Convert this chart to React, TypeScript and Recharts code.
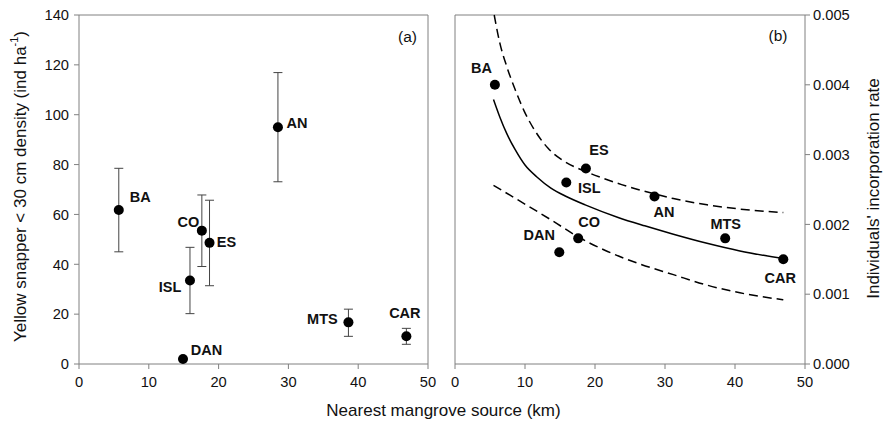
import React from 'react';
import { ComposedChart, Scatter, Line, XAxis, YAxis, ErrorBar, ReferenceLine } from 'recharts';

// ---- data ----
const sites = ['BA', 'CO', 'ES', 'ISL', 'AN', 'DAN', 'MTS', 'CAR'];
const distanceKm = [5.7, 17.6, 18.7, 15.9, 28.5, 14.9, 38.6, 46.9];
const density = [61.8, 53.5, 48.6, 33.5, 95.0, 2.0, 16.7, 11.1];
const densityLow = [45.0, 39.1, 31.4, 20.2, 73.1, 2.0, 11.1, 7.9];
const densityHigh = [78.5, 67.8, 65.7, 46.8, 116.9, 2.0, 22.0, 14.3];
const incorporation = [0.0040, 0.0018, 0.0028, 0.0026, 0.0024, 0.0016, 0.0018, 0.0015];

const fitX = [5.5, 6.4, 7.4, 8.6, 10.0, 11.7, 13.7, 15.9, 18.6, 23.3, 27.1, 31.2, 36.0, 40.7, 46.9];
const fitY = [0.00379, 0.00354, 0.00330, 0.00307, 0.00285, 0.00268, 0.00252, 0.00240, 0.00228, 0.00210, 0.00198, 0.00186, 0.00173, 0.00162, 0.00151];
const upperX = [5.6, 6.4, 7.4, 8.6, 9.9, 11.5, 13.3, 15.5, 18.6, 21.2, 23.8, 28.4, 31.2, 36.0, 40.7, 46.9];
const upperY = [0.00500, 0.00460, 0.00426, 0.00393, 0.00362, 0.00333, 0.00309, 0.00291, 0.00276, 0.00266, 0.00257, 0.00244, 0.00237, 0.00228, 0.00222, 0.00217];
const lowerX = [5.5, 9.0, 13.8, 17.6, 21.4, 26.2, 31.2, 36.0, 40.7, 46.9];
const lowerY = [0.00256, 0.00235, 0.00206, 0.00182, 0.00163, 0.00144, 0.00128, 0.00113, 0.00102, 0.00092];

const ticksX = [0, 10, 20, 30, 40, 50];
const ticksA = [0, 20, 40, 60, 80, 100, 120, 140];
const ticksB = [0, 0.001, 0.002, 0.003, 0.004, 0.005];

// ---- tables built from the arrays ----
const dataA = sites.map((name, i) => ({
  name,
  x: distanceKm[i],
  y: density[i],
  err: [density[i] - densityLow[i], densityHigh[i] - density[i]],
}));
const dataB = sites.map((name, i) => ({ name, x: distanceKm[i], y: incorporation[i] }));
const fitData = fitX.map((x, i) => ({ x, y: fitY[i] }));
const upperData = upperX.map((x, i) => ({ x, y: upperY[i] }));
const lowerData = lowerX.map((x, i) => ({ x, y: lowerY[i] }));

// ---- styling ----
const FONT = '"Liberation Sans", Arial, Helvetica, sans-serif';
const AXIS = '#808080';
const TICK = { fill: '#111', fontSize: 14.7, fontFamily: FONT };

const labelOffsetA: Record<string, [number, number]> = {
  BA: [21.5, -13], AN: [19, -4], CO: [-13.5, -9], ES: [17, -1],
  ISL: [-20, 7], DAN: [23.5, -9], MTS: [-26, -3], CAR: [-1.5, -23],
};
const labelOffsetB: Record<string, [number, number]> = {
  BA: [-13.5, -17], ES: [13, -19], ISL: [23, 5], AN: [9.5, 16],
  CO: [11, -16], DAN: [-20, -17], MTS: [0.5, -14], CAR: [-3, 19],
};

const makeShape = (offsets: Record<string, [number, number]>) => (props: any) => {
  const { cx, cy, payload } = props;
  const [dx, dy] = offsets[payload.name] || [0, 0];
  return (
    <g>
      <circle cx={cx} cy={cy} r={5} fill="#000" />
      <text
        x={cx + dx}
        y={cy + dy}
        textAnchor="middle"
        dominantBaseline="central"
        fontSize={14.5}
        fontWeight="bold"
        fontFamily={FONT}
        fill="#111"
      >
        {payload.name}
      </text>
    </g>
  );
};

export default function App() {
  return (
    <div
      style={{
        position: 'fixed', left: 0, top: 0, width: 883, height: 429,
        background: '#fff', fontFamily: FONT,
      }}
    >
      <div style={{ position: 'absolute', left: 0, top: 0 }}>
        <ComposedChart width={440} height={429} margin={{ top: 15, right: 12, bottom: 35, left: 19 }}>
          <XAxis
            dataKey="x" type="number" domain={[0, 50]} ticks={ticksX}
            axisLine={{ stroke: AXIS }} tickLine={{ stroke: AXIS }}
            tickSize={5} tickMargin={8} tick={TICK} height={30}
          />
          <YAxis
            dataKey="y" type="number" domain={[0, 140]} ticks={ticksA}
            axisLine={{ stroke: AXIS }} tickLine={{ stroke: AXIS }}
            tickSize={5} tickMargin={5} tick={TICK} width={60}
          />
          <ReferenceLine y={140} stroke={AXIS} />
          <ReferenceLine x={50} stroke={AXIS} />
          <Scatter data={dataA} isAnimationActive={false} shape={makeShape(labelOffsetA)}>
            <ErrorBar dataKey="err" direction="y" width={4.5} stroke="#444" strokeWidth={1} isAnimationActive={false} />
          </Scatter>
        </ComposedChart>
      </div>

      <div style={{ position: 'absolute', left: 440, top: 0 }}>
        <ComposedChart width={443} height={429} margin={{ top: 15, right: 18, bottom: 35, left: 15 }}>
          <XAxis
            dataKey="x" type="number" domain={[0, 50]} ticks={ticksX}
            axisLine={{ stroke: AXIS }} tickLine={{ stroke: AXIS }}
            tickSize={5} tickMargin={8} tick={TICK} height={30}
          />
          <YAxis
            dataKey="y" type="number" orientation="right" domain={[0, 0.005]} ticks={ticksB}
            tickFormatter={(v: number) => v.toFixed(3)}
            axisLine={{ stroke: AXIS }} tickLine={{ stroke: AXIS }}
            tickSize={5} tickMargin={3} tick={TICK} width={60}
          />
          <ReferenceLine y={0.005} stroke={AXIS} />
          <ReferenceLine x={0} stroke={AXIS} />
          <Line data={upperData} dataKey="y" type="monotone" stroke="#000" strokeWidth={1.5}
            strokeDasharray="9 5" dot={false} activeDot={false} isAnimationActive={false} />
          <Line data={fitData} dataKey="y" type="monotone" stroke="#000" strokeWidth={1.5}
            dot={false} activeDot={false} isAnimationActive={false} />
          <Line data={lowerData} dataKey="y" type="monotone" stroke="#000" strokeWidth={1.5}
            strokeDasharray="9 5" dot={false} activeDot={false} isAnimationActive={false} />
          <Scatter data={dataB} isAnimationActive={false} shape={makeShape(labelOffsetB)} />
        </ComposedChart>
      </div>

      <svg
        width={883} height={429}
        style={{ position: 'absolute', left: 0, top: 0, pointerEvents: 'none' }}
        fontFamily={FONT}
      >
        <text x={407.5} y={36} textAnchor="middle" dominantBaseline="central" fontSize={15.5} fill="#111">(a)</text>
        <text x={778} y={35} textAnchor="middle" dominantBaseline="central" fontSize={15.5} fill="#111">(b)</text>
        <text x={443.5} y={410} textAnchor="middle" dominantBaseline="central" fontSize={17} fill="#111">
          Nearest mangrove source (km)
        </text>
        <text
          transform="translate(20,186.5) rotate(-90)"
          textAnchor="middle" dominantBaseline="central" fontSize={17} fill="#111"
        >
          <tspan>Yellow snapper &lt; 30 cm density (ind ha</tspan>
          <tspan dy={-6} fontSize={11}>-1</tspan>
          <tspan dy={6}>)</tspan>
        </text>
        <text
          transform="translate(873,188.5) rotate(-90)"
          textAnchor="middle" dominantBaseline="central" fontSize={17} fill="#111"
        >
          Individuals' incorporation rate
        </text>
      </svg>
    </div>
  );
}
